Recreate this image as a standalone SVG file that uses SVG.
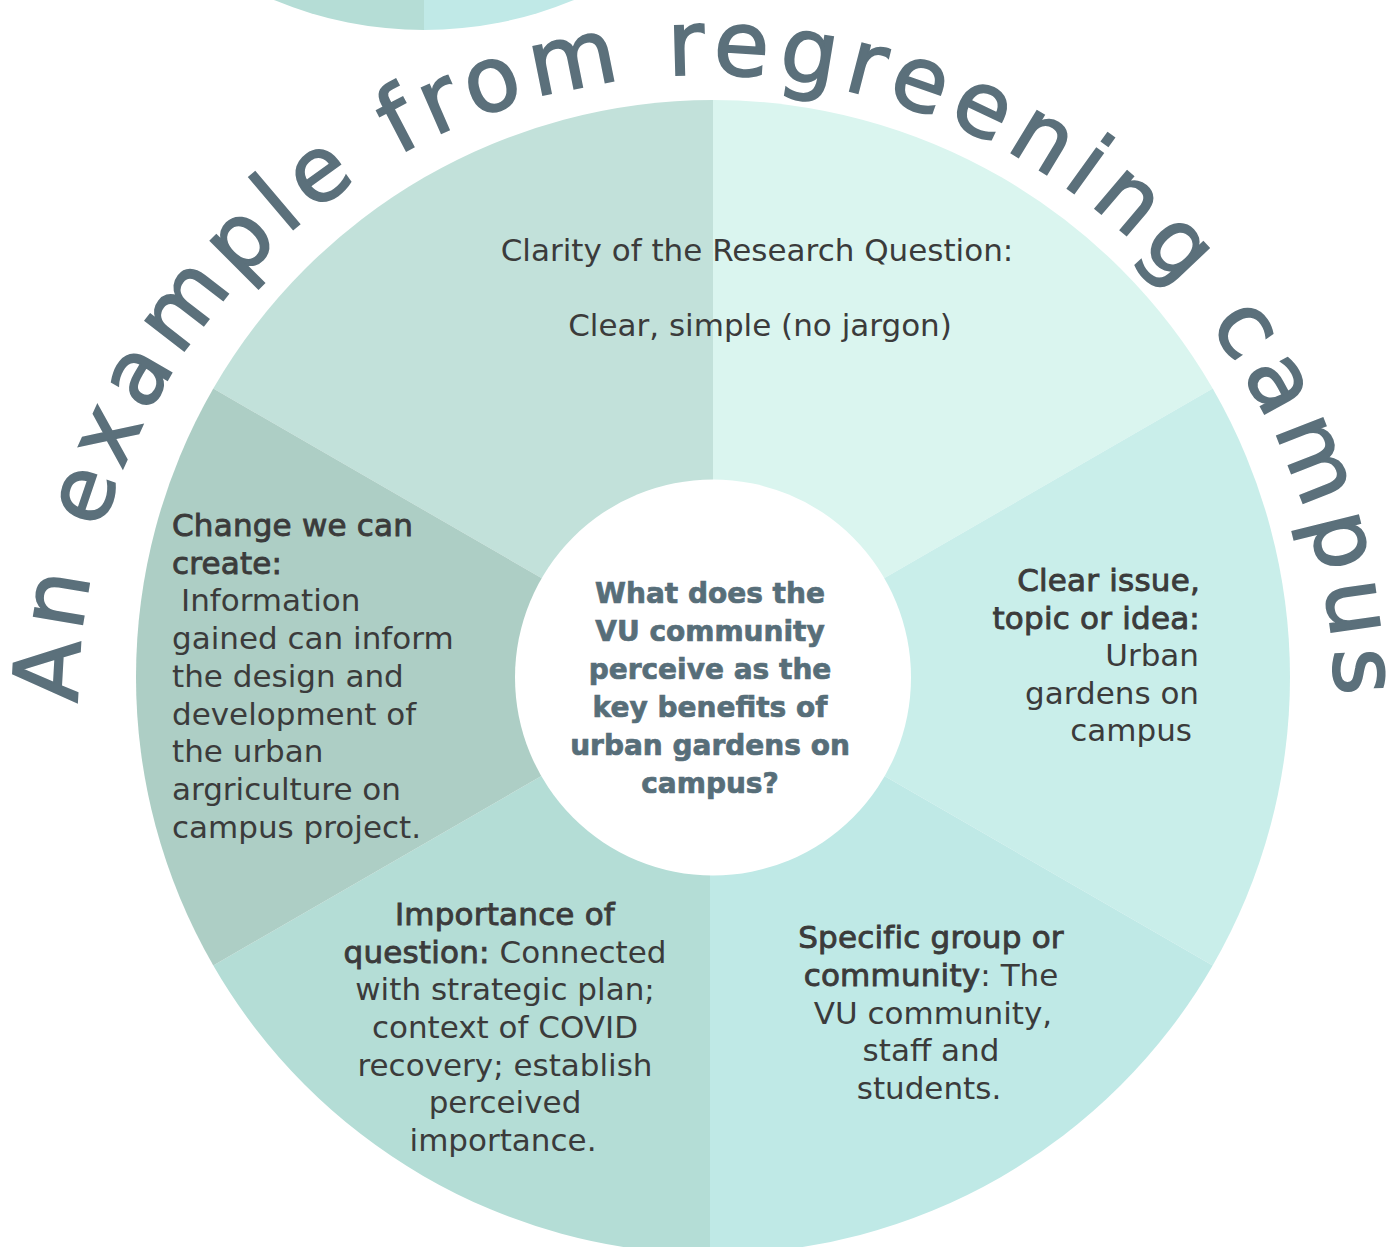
<svg xmlns="http://www.w3.org/2000/svg" width="1388" height="1247" viewBox="0 0 1388 1247">
  <style>
    .t { font-family: "DejaVu Sans", "Liberation Sans", sans-serif; font-size: 31px; fill: #3b3b3b; }
    .b { stroke: #3b3b3b; stroke-width: 0.9px; letter-spacing: 0.2px; }
    .c { font-family: "DejaVu Sans", "Liberation Sans", sans-serif; font-weight: bold; font-size: 28px; fill: #576e79; stroke: #576e79; stroke-width: 0.7px; text-anchor: middle; }
    .title { font-family: "DejaVu Sans", "Liberation Sans", sans-serif; font-size: 90px; fill: #5b707b; stroke: #5b707b; stroke-width: 1.8px; letter-spacing: 9.2px; }
    .mid { text-anchor: middle; }
    .end { text-anchor: end; }
  </style>
  <defs>
    <path id="titleArc" d="M 78 703 A 628.5 628.5 0 0 1 1335 703"/>
  </defs>
  <rect width="1388" height="1247" fill="#ffffff"/>

  <g id="top-circle">
    <path d="M424,-360 L424,30 A390,390 0 0 1 34,-360 Z" fill="#b5ddd6"/>
    <path d="M424,-360 L814,-360 A390,390 0 0 1 424,30 Z" fill="#c0e9e7"/>
  </g>

  <g id="title">
    <text class="title"><textPath href="#titleArc">An example from regreening campus</textPath></text>
  </g>

  <g id="segment-clarity">
    <path d="M713,677 L213.3,388.5 A577,577 0 0 1 713,100 Z" fill="#c2e1da"/>
    <path d="M713,677 L713,100 A577,577 0 0 1 1212.7,388.5 Z" fill="#daf5ef"/>
    <text class="t mid" x="757" y="261">Clarity of the Research Question:</text>
    <text class="t mid" x="760" y="336">Clear, simple (no jargon)</text>
  </g>

  <g id="segment-issue">
    <path d="M713,677 L1212.7,388.5 A577,577 0 0 1 1212.7,965.5 Z" fill="#c9eeea"/>
    <text class="t end b" x="1200" y="591">Clear issue,</text>
    <text class="t end b" x="1200" y="628.5">topic or idea:</text>
    <text class="t end" x="1199" y="666">Urban</text>
    <text class="t end" x="1199" y="703.5">gardens on</text>
    <text class="t end" x="1192" y="741">campus</text>
  </g>

  <g id="segment-group">
    <path d="M713,677 L1212.7,965.5 A577,577 0 0 1 710,1254 L710,677 Z" fill="#bfe9e6"/>
    <text class="t mid" x="931" y="948"><tspan class="b">Specific group or</tspan></text>
    <text class="t mid" x="931" y="986"><tspan class="b">community</tspan>: The</text>
    <text class="t mid" x="933" y="1023.5">VU community,</text>
    <text class="t mid" x="931" y="1061">staff and</text>
    <text class="t mid" x="929" y="1099">students.</text>
  </g>

  <g id="segment-importance">
    <path d="M710,677 L710,1254 A577,577 0 0 1 213.3,965.5 L713,677 Z" fill="#b4ddd6"/>
    <text class="t mid" x="505" y="925"><tspan class="b">Importance of</tspan></text>
    <text class="t mid" x="505" y="962.7"><tspan class="b">question:</tspan> Connected</text>
    <text class="t mid" x="505" y="1000.3">with strategic plan;</text>
    <text class="t mid" x="505" y="1038">context of COVID</text>
    <text class="t mid" x="505" y="1075.5">recovery; establish</text>
    <text class="t mid" x="505" y="1113">perceived</text>
    <text class="t mid" x="503" y="1150.5">importance.</text>
  </g>

  <g id="segment-change">
    <path d="M713,677 L213.3,965.5 A577,577 0 0 1 213.3,388.5 Z" fill="#adcec5"/>
    <text class="t b" x="172" y="536">Change we can</text>
    <text class="t b" x="172" y="573.7">create:</text>
    <text class="t" x="181" y="611.4">Information</text>
    <text class="t" x="172" y="649">gained can inform</text>
    <text class="t" x="172" y="686.8">the design and</text>
    <text class="t" x="172" y="724.5">development of</text>
    <text class="t" x="172" y="762">the urban</text>
    <text class="t" x="172" y="800">argriculture on</text>
    <text class="t" x="172" y="837.5">campus project.</text>
  </g>

  <g id="center-question">
    <circle cx="713" cy="677.5" r="198" fill="#ffffff"/>
    <text class="c" x="710" y="602.5">What does the</text>
    <text class="c" x="710" y="640.5">VU community</text>
    <text class="c" x="710" y="678.5">perceive as the</text>
    <text class="c" x="710" y="716.5">key benefits of</text>
    <text class="c" x="710" y="754.5">urban gardens on</text>
    <text class="c" x="710" y="792.5">campus?</text>
  </g>

  <g id="connectors"></g>
</svg>
